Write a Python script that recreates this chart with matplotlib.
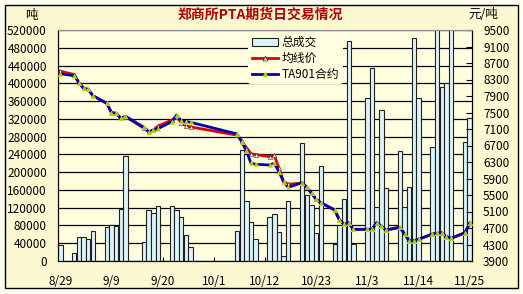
import pandas as pd
import matplotlib.pyplot as plt
from matplotlib.patches import Patch, Rectangle
from matplotlib.lines import Line2D

plt.rcParams['font.family'] = ['Noto Sans CJK SC', 'DejaVu Sans']

# trading days (2008) and values
dates = ["08-29",
         "09-01", "09-02", "09-03", "09-04", "09-05",
         "09-08", "09-09", "09-10", "09-11", "09-12",
         "09-16", "09-17", "09-18", "09-19",
         "09-22", "09-23", "09-24", "09-25", "09-26",
         "10-06", "10-07", "10-08", "10-09", "10-10",
         "10-13", "10-14", "10-15", "10-16", "10-17",
         "10-20", "10-21", "10-22", "10-23", "10-24",
         "10-27", "10-28", "10-29", "10-30", "10-31",
         "11-03", "11-04", "11-05", "11-06", "11-07",
         "11-10", "11-11", "11-12", "11-13", "11-14",
         "11-17", "11-18", "11-19", "11-20", "11-21",
         "11-24", "11-25"]

volume = [37000,
          18000, 53000, 53000, 49000, 67500,
          77000, 80000, 78000, 117000, 236000,
          42000, 115000, 108000, 124000,
          124000, 115000, 100000, 58500, 31000,
          67500, 250000, 136000, 88000, 49500,
          98000, 106000, 66000, 11000, 135000,
          266000, 148000, 127000, 62000, 214000,
          38000, 80000, 139000, 495000, 38000,
          367000, 434000, 122000, 340000, 164000,
          248000, 122000, 167000, 501000, 368000,
          257000, 560000, 392000, 401000, 560000,
          269000, 321000]

avg_price = [8500,
             8420, 8222, 8086, 8060, 7907,
             7722, 7495, 7480, 7359, 7398,
             7116, 7034, 7075, 7172,
             7318, 7400, 7250, 7180, 7150,
             6950, 6800, 6650, 6500, 6480,
             6430, 6460, 6150, 5822, 5760,
             5790, 5686, 5541, 5396, 5313,
             5136, 4894, 4790, 4828, 4668,
             4668, 4668, 4828, 4748, 4651,
             4717, 4554, 4392, 4392, 4426,
             4554, 4571, 4586, 4489, 4450,
             4586, 4814]

ta901 = [8440,
         8390, 8222, 8086, 8060, 7907,
         7722, 7495, 7480, 7359, 7410,
         7140, 7030, 7075, 7110,
         7280, 7440, 7294, 7280, 7262,
         6980, 6792, 6560, 6268, 6244,
         6227, 6268, 6065, 5822, 5686,
         5798, 5686, 5541, 5396, 5313,
         5136, 4894, 4790, 4828, 4668,
         4668, 4668, 4828, 4748, 4651,
         4717, 4554, 4392, 4392, 4426,
         4554, 4571, 4586, 4489, 4450,
         4586, 4814]

tick_labels = ["8/29", "9/9", "9/20", "10/1", "10/12", "10/23", "11/3", "11/14", "11/25"]

# calendar-day positions, so weekends and holidays leave gaps
start = pd.Timestamp("2008-08-29")
day = [(pd.Timestamp("2008-" + d) - start).days for d in dates]
tick_pos = [(pd.to_datetime("2008/" + t) - start).days for t in tick_labels]

fig = plt.figure(figsize=(5.23, 2.94), dpi=100, facecolor="#FFFFF0")
frame = Rectangle((5 / 523, 6 / 294), 513 / 523, 283 / 294,
                  transform=fig.transFigure, facecolor="#FCF8D2",
                  edgecolor="black", lw=1, zorder=-10)
fig.patches.append(frame)

ax = fig.add_axes([58 / 523, 33 / 294, 414 / 523, 231 / 294])
ax.set_facecolor("#FFFFE0")
ax.bar(day, volume, width=0.95, color="#DDF4FA", edgecolor="#202020", lw=0.8, zorder=2)
ax.set_xlim(-0.5, 88.5)
ax.set_ylim(0, 520000)
ax.set_yticks(range(0, 520001, 40000))
ax.yaxis.grid(True, color="black", lw=0.9, zorder=1)
ax.set_axisbelow(True)
ax.tick_params(axis="y", length=0, pad=8, labelsize=8.5)
ax.set_xticks(tick_pos)
ax.set_xticklabels(tick_labels)
ax.tick_params(axis="x", direction="in", length=3, pad=10, labelsize=8.5)
ax.spines["top"].set_color("#909090")

ax2 = ax.twinx()
ax2.plot(day, avg_price, color="#E00000", lw=2, marker="^", ms=3,
         mfc="white", mec="#202020", mew=0.4, zorder=3)
ax2.plot(day, ta901, color="#0000B0", lw=2, marker="^", ms=3.2,
         mfc="#99CC00", mec="#E8F000", mew=0.4, zorder=4)
ax2.set_ylim(3900, 9500)
ax2.set_yticks(range(3900, 9501, 400))
ax2.tick_params(axis="y", direction="in", length=4, pad=8, labelsize=8.5)
ax2.spines["top"].set_color("#909090")

handles = [Patch(facecolor="#DDF4FA", edgecolor="#202020", lw=0.8),
           Line2D([], [], color="#E00000", lw=2, marker="^", ms=3.5, mfc="white", mec="#202020", mew=0.5),
           Line2D([], [], color="#0000B0", lw=2, marker="^", ms=3.5, mfc="#99CC00", mec="#E8F000", mew=0.5)]
leg = ax2.legend(handles, ["总成交", "均线价", "TA901合约"], loc="upper left",
                 bbox_to_anchor=(0.46, 0.99), fontsize=8.5, frameon=True,
                 facecolor="#FFFFE0", edgecolor="none", framealpha=1,
                 handlelength=2.2, handletextpad=0.3, labelspacing=0.25,
                 borderpad=0.3, borderaxespad=0)

fig.text(260 / 523, 1 - 15 / 294, "郑商所PTA期货日交易情况", ha="center", va="center",
         fontsize=10, fontweight="bold", color="#B00000")
fig.text(31 / 523, 1 - 15 / 294, "吨", ha="center", va="center", fontsize=9)
fig.text(483 / 523, 1 - 15 / 294, "元/吨", ha="center", va="center", fontsize=9)

fig.savefig("out.png", dpi=100, facecolor=fig.get_facecolor())
